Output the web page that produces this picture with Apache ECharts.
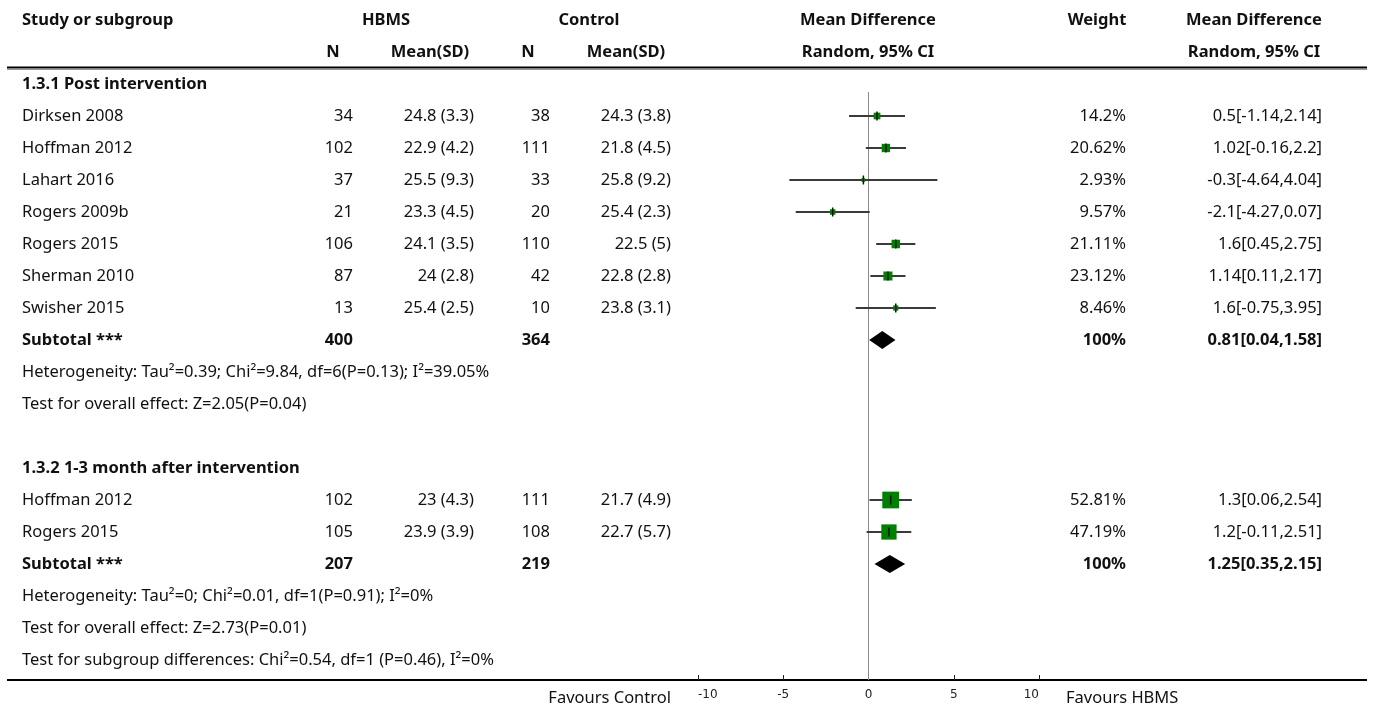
<!DOCTYPE html>
<html><head><meta charset="utf-8">
<script src="https://cdn.jsdelivr.net/npm/echarts@6/dist/echarts.min.js"></script>
<style>html,body{margin:0;padding:0;background:#fff}#chart{width:1375px;height:708px}</style>
</head><body><div id="chart"></div>
<script>
// ---------- data ----------
const group1Title = '1.3.1 Post intervention';
const studies1 = ['Dirksen 2008','Hoffman 2012','Lahart 2016','Rogers 2009b','Rogers 2015','Sherman 2010','Swisher 2015'];
const hbmsN1 = [34,102,37,21,106,87,13];
const hbmsMean1 = [24.8,22.9,25.5,23.3,24.1,24,25.4];
const hbmsSd1 = [3.3,4.2,9.3,4.5,3.5,2.8,2.5];
const ctrlN1 = [38,111,33,20,110,42,10];
const ctrlMean1 = [24.3,21.8,25.8,25.4,22.5,22.8,23.8];
const ctrlSd1 = [3.8,4.5,9.2,2.3,5,2.8,3.1];
const md1 = [0.5,1.02,-0.3,-2.1,1.6,1.14,1.6];
const lo1 = [-1.14,-0.16,-4.64,-4.27,0.45,0.11,-0.75];
const hi1 = [2.14,2.2,4.04,0.07,2.75,2.17,3.95];
const weight1 = [14.2,20.62,2.93,9.57,21.11,23.12,8.46];
const subtotal1 = {hbmsN:400, ctrlN:364, md:0.81, lo:0.04, hi:1.58, weight:100};
const het1 = 'Heterogeneity: Tau\u00b2=0.39; Chi\u00b2=9.84, df=6(P=0.13); I\u00b2=39.05%';
const test1 = 'Test for overall effect: Z=2.05(P=0.04)';

const group2Title = '1.3.2 1-3 month after intervention';
const studies2 = ['Hoffman 2012','Rogers 2015'];
const hbmsN2 = [102,105];
const hbmsMean2 = [23,23.9];
const hbmsSd2 = [4.3,3.9];
const ctrlN2 = [111,108];
const ctrlMean2 = [21.7,22.7];
const ctrlSd2 = [4.9,5.7];
const md2 = [1.3,1.2];
const lo2 = [0.06,-0.11];
const hi2 = [2.54,2.51];
const weight2 = [52.81,47.19];
const subtotal2 = {hbmsN:207, ctrlN:219, md:1.25, lo:0.35, hi:2.15, weight:100};
const het2 = 'Heterogeneity: Tau\u00b2=0; Chi\u00b2=0.01, df=1(P=0.91); I\u00b2=0%';
const test2 = 'Test for overall effect: Z=2.73(P=0.01)';
const subgroupTest = 'Test for subgroup differences: Chi\u00b2=0.54, df=1 (P=0.46), I\u00b2=0%';

const xTicks = [-10,-5,0,5,10];
const favourLeft = 'Favours Control';
const favourRight = 'Favours HBMS';

// ---------- layout ----------
const FONT = 'Noto Sans';
const FS = 16.5;
const ROW0_Y = 20, ROW_H = 32, AXIS_Y = 680;
const Y_MAX = (AXIS_Y - ROW0_Y) / ROW_H;
const X = {study:22, n1:353, m1:474, n2:550, m2:671, w:1126, ci:1322,
           hN1:333, hM1:430, hN2:528, hM2:626, hHBMS:386, hCtrl:589, hMD:868, hW:1097, hCI:1254};

const cells = [];
function cell(row, x, text, align, bold){ cells.push({row, x, text:String(text), align, bold:!!bold}); }
// header
cell(0, X.study, 'Study or subgroup', 'left', true);
cell(0, X.hHBMS, 'HBMS', 'center', true);
cell(0, X.hCtrl, 'Control', 'center', true);
cell(0, X.hMD, 'Mean Difference', 'center', true);
cell(0, X.hW, 'Weight', 'center', true);
cell(0, X.hCI, 'Mean Difference', 'center', true);
cell(1, X.hN1, 'N', 'center', true);
cell(1, X.hM1, 'Mean(SD)', 'center', true);
cell(1, X.hN2, 'N', 'center', true);
cell(1, X.hM2, 'Mean(SD)', 'center', true);
cell(1, X.hMD, 'Random, 95% CI', 'center', true);
cell(1, X.hCI, 'Random, 95% CI', 'center', true);

const forest = [];   // [md, row, lo, hi, weight]
const diamonds = []; // [md, row, lo, hi]
function ci(m,l,h){ return m + '[' + l + ',' + h + ']'; }
function addGroup(startRow, title, st, hn, hm, hs, cn, cm, cs, md, lo, hi, w, sub, het, test){
  let r = startRow;
  cell(r++, X.study, title, 'left', true);
  for (let i=0;i<st.length;i++){
    cell(r, X.study, st[i], 'left');
    cell(r, X.n1, hn[i], 'right');
    cell(r, X.m1, hm[i] + ' (' + hs[i] + ')', 'right');
    cell(r, X.n2, cn[i], 'right');
    cell(r, X.m2, cm[i] + ' (' + cs[i] + ')', 'right');
    cell(r, X.w, w[i] + '%', 'right');
    cell(r, X.ci, ci(md[i], lo[i], hi[i]), 'right');
    forest.push([md[i], r, lo[i], hi[i], w[i]]);
    r++;
  }
  cell(r, X.study, 'Subtotal ***', 'left', true);
  cell(r, X.n1, sub.hbmsN, 'right', true);
  cell(r, X.n2, sub.ctrlN, 'right', true);
  cell(r, X.w, sub.weight + '%', 'right', true);
  cell(r, X.ci, ci(sub.md, sub.lo, sub.hi), 'right', true);
  diamonds.push([sub.md, r, sub.lo, sub.hi]);
  r++;
  cell(r++, X.study, het, 'left');
  cell(r++, X.study, test, 'left');
  return r;
}
let nextRow = addGroup(2, group1Title, studies1, hbmsN1, hbmsMean1, hbmsSd1, ctrlN1, ctrlMean1, ctrlSd1, md1, lo1, hi1, weight1, subtotal1, het1, test1);
nextRow = addGroup(nextRow + 1, group2Title, studies2, hbmsN2, hbmsMean2, hbmsSd2, ctrlN2, ctrlMean2, ctrlSd2, md2, lo2, hi2, weight2, subtotal2, het2, test2);
cell(nextRow, X.study, subgroupTest, 'left');

const chart = echarts.init(document.getElementById('chart'), null, {renderer:'canvas'});
const ZERO_TOP_ROW = (92 - ROW0_Y) / ROW_H;

chart.setOption({
  animation: false,
  backgroundColor: '#fff',
  grid: {left: 698, width: 341, top: ROW0_Y, bottom: 708 - AXIS_Y, containLabel: false},
  xAxis: {
    type: 'value', min: -10, max: 10, interval: 5, position: 'bottom',
    axisLine: {show: false, onZero: false},
    axisTick: {show: true, inside: true, length: 5, lineStyle: {color: '#222', width: 1}},
    axisLabel: {fontFamily: 'DejaVu Sans', fontSize: 12, color: '#222', margin: 9,
                alignMinLabel: 'left', alignMaxLabel: 'right'},
    splitLine: {show: false}
  },
  yAxis: {type: 'value', inverse: true, min: 0, max: Y_MAX, show: false},
  graphic: [
    {type:'line', shape:{x1:7, y1:67.5, x2:1367, y2:67.5}, style:{stroke:'#000', lineWidth:2}, silent:true},
    {type:'line', shape:{x1:7, y1:69.5, x2:1367, y2:69.5}, style:{stroke:'#999', lineWidth:1}, silent:true},
    {type:'line', shape:{x1:7, y1:AXIS_Y, x2:1367, y2:AXIS_Y}, style:{stroke:'#000', lineWidth:2}, silent:true},
    {type:'text', x:671, y:698, style:{text:favourLeft, fontFamily:FONT, fontSize:FS, fill:'#111', align:'right', verticalAlign:'middle'}},
    {type:'text', x:1066, y:698, style:{text:favourRight, fontFamily:FONT, fontSize:FS, fill:'#111', align:'left', verticalAlign:'middle'}}
  ],
  series: [
    { // zero line
      type:'custom', clip:false, silent:true,
      data:[[0, ZERO_TOP_ROW, Y_MAX]],
      renderItem(params, api){
        const a = api.coord([0, api.value(1)]), b = api.coord([0, api.value(2)]);
        return {type:'line', shape:{x1:a[0], y1:a[1], x2:b[0], y2:b[1]}, style:{stroke:'#8a8a8a', lineWidth:1}};
      }
    },
    { // study CIs and squares
      type:'custom', clip:false, silent:true,
      data: forest,
      renderItem(params, api){
        const p = api.coord([api.value(0), api.value(1)]);
        const l = api.coord([api.value(2), api.value(1)]);
        const h = api.coord([api.value(3), api.value(1)]);
        const s = 3 + 0.26 * api.value(4);
        return {type:'group', children:[
          {type:'line', shape:{x1:l[0], y1:p[1], x2:h[0], y2:p[1]}, style:{stroke:'#3a3a3a', lineWidth:2}},
          {type:'rect', shape:{x:p[0]-s/2, y:p[1]-s/2, width:s, height:s}, style:{fill:'#008000'}},
          {type:'line', shape:{x1:p[0], y1:p[1]-4.5, x2:p[0], y2:p[1]+4.5}, style:{stroke:'#111', lineWidth:1.5}}
        ]};
      }
    },
    { // diamonds
      type:'custom', clip:false, silent:true,
      data: diamonds,
      renderItem(params, api){
        const p = api.coord([api.value(0), api.value(1)]);
        const l = api.coord([api.value(2), api.value(1)]);
        const h = api.coord([api.value(3), api.value(1)]);
        return {type:'polygon', shape:{points:[[l[0],p[1]],[p[0],p[1]-9],[h[0],p[1]],[p[0],p[1]+9]]}, style:{fill:'#000'}};
      }
    },
    { // table text
      type:'custom', clip:false, silent:true,
      data: cells.map(c => [0, c.row]),
      renderItem(params, api){
        const c = cells[params.dataIndex];
        const y = api.coord([0, api.value(1)])[1];
        return {type:'text', x:c.x, y:y, style:{text:c.text, fontFamily:FONT, fontSize:FS,
          fontWeight: c.bold ? 'bold' : 'normal', fill:'#111',
          align:c.align, verticalAlign:'middle', textAlign:c.align, textVerticalAlign:'middle'}};
      }
    }
  ]
});
</script></body></html>
